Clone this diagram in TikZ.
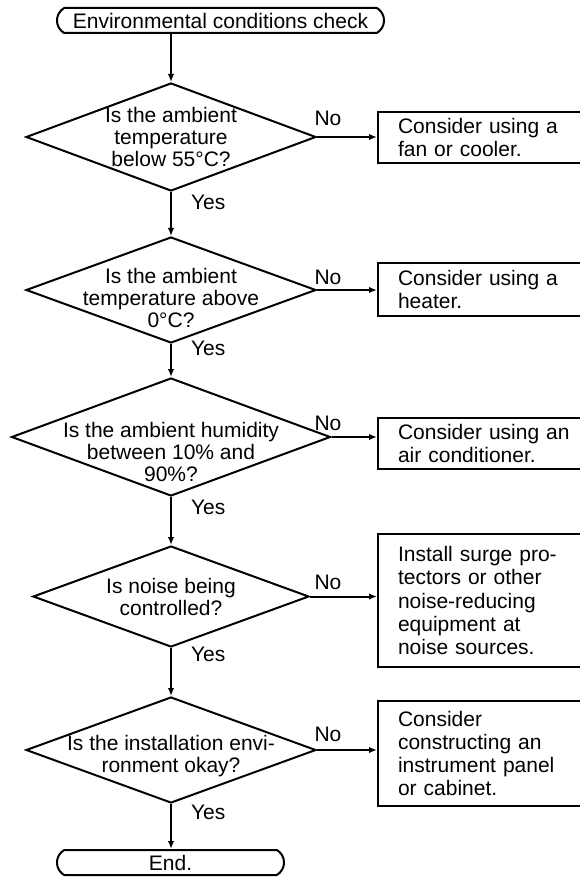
\documentclass[tikz,border=0pt]{standalone}
\usepackage{fontspec}
\setmainfont{Liberation Sans}
\usetikzlibrary{arrows.meta,shapes.geometric,shapes.misc}
\tikzset{
  >={Latex[length=8pt,width=6.5pt]},
  font=\fontsize{21}{23.3}\selectfont,
  terminal/.style={rounded rectangle, rounded rectangle arc length=120,
    draw, inner sep=0pt, minimum height=25pt},
  decision/.style={diamond, draw, inner sep=0pt},
  qtext/.style={align=center, inner sep=0pt, font=\fontsize{21}{22}\selectfont},
  action/.style={rectangle, draw, anchor=west, align=left, text width=185pt,
    inner xsep=20pt, inner ysep=0pt},
  lbl/.style={inner sep=0pt},
  % arrows
  flow/.style={->},
}

\begin{document}
\begin{tikzpicture}[x=1pt,y=-1pt,line width=2pt]
\useasboundingbox (0,0) rectangle (579,877);

% ---------- terminals ----------
\node[terminal, minimum width=327pt] (start) at (220.5,20.5) {Environmental conditions check};
\node[terminal, minimum width=227pt] (stop)  at (170.5,862.5) {End.};

% ---------- decisions ----------
\node[decision, minimum width=290pt, minimum height=108pt,
  label={[qtext]center:{Is the ambient\\temperature\\below 55°C?}}] (d1) at (171,137) {};
\node[decision, minimum width=290pt, minimum height=106pt,
  label={[qtext, yshift=-8pt]center:{Is the ambient\\temperature above\\0°C?}}] (d2) at (171,290) {};
\node[decision, minimum width=319pt, minimum height=118pt,
  label={[qtext, yshift=-15pt]center:{Is the ambient humidity\\between 10\% and\\90\%?}}] (d3) at (171,437) {};
\node[decision, minimum width=276pt, minimum height=101pt,
  label={[qtext]center:{Is noise being\\controlled?}}] (d4) at (171,596.5) {};
\node[decision, minimum width=290pt, minimum height=106pt,
  label={[qtext, yshift=-6pt]center:{Is the installation envi-\\ronment okay?}}] (d5) at (171,750) {};

% ---------- actions (right edge runs off the page) ----------
\node[action, minimum height=51pt]  (b1) at (377,137.5) {Consider using a\\fan or cooler.};
\node[action, minimum height=53pt]  (b2) at (377,289.5) {Consider using a\\heater.};
\node[action, minimum height=51pt]  (b3) at (377,443.5) {Consider using an\\air conditioner.};
\node[action, minimum height=133pt] (b4) at (377,600.5) {Install surge pro-\\tectors or other\\noise-reducing\\equipment at\\noise sources.};
\node[action, minimum height=105pt] (b5) at (377,753.5) {Consider\\constructing an\\instrument panel\\or cabinet.};

% ---------- branch labels ----------
\node[lbl] (no1) at (328,118) {No};
\node[lbl] (no2) at (328,277) {No};
\node[lbl] (no3) at (328,423) {No};
\node[lbl] (no4) at (328,582) {No};
\node[lbl] (no5) at (328,734) {No};
\node[lbl, anchor=west] (yes1) at (190,202) {Yes};
\node[lbl, anchor=west] (yes2) at (190,348) {Yes};
\node[lbl, anchor=west] (yes3) at (190,507) {Yes};
\node[lbl, anchor=west] (yes4) at (190,654) {Yes};
\node[lbl, anchor=west] (yes5) at (190,812) {Yes};

% ---------- main line ----------
\draw[flow] (start.south -| d1.north) -- (d1.north);
\foreach \a/\b in {d1/d2, d2/d3, d3/d4, d4/d5, d5/stop}{
  \draw[flow] (\a.south) -- (\a.south |- \b.north);}

% ---------- "No" branches ----------
\foreach \d/\b in {d1/b1, d2/b2, d3/b3, d4/b4, d5/b5}{
  \draw[flow] (\d.east) -- (\d.east -| \b.west);}

\end{tikzpicture}
\end{document}
